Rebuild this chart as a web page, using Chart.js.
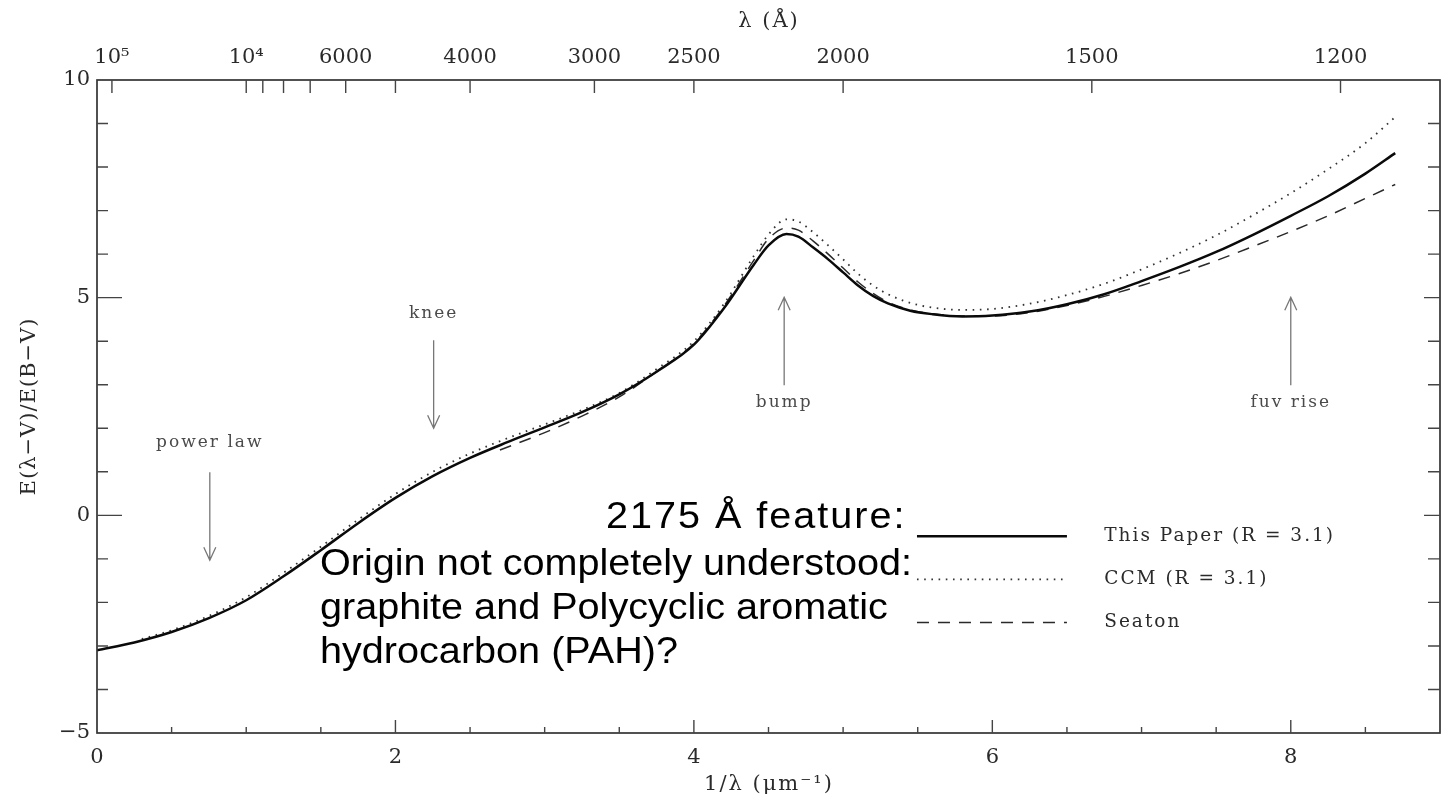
<!DOCTYPE html>
<html><head><meta charset="utf-8">
<script src="https://cdn.jsdelivr.net/npm/chart.js@4"></script>
<style>
html,body{margin:0;padding:0;background:#fff;}
#wrap{position:relative;width:1444px;height:801px;}
canvas{display:block;}
#note{position:absolute;left:320px;top:494px;font-family:"Liberation Sans",Arial,sans-serif;font-size:36px;line-height:44px;color:#000;white-space:nowrap;transform-origin:0 0;transform:scaleX(1.1);}
#note .l1{padding-left:260px;margin-bottom:3px;letter-spacing:1.8px;}
</style>
</head><body>
<div id="wrap">
<canvas id="c" width="1444" height="801"></canvas>
<div id="note"><div class="l1">2175 Å feature:</div><div>Origin not completely understood:</div><div>graphite and Polycyclic aromatic</div><div>hydrocarbon (PAH)?</div></div>
</div>
<script>
// ---- data (x = 1/lambda in micron^-1, y = E(lambda-V)/E(B-V)) ----
const xThisPaper = [0,0.25,0.5,0.75,1.0,1.25,1.5,1.75,2.0,2.25,2.5,2.75,3.0,3.25,3.5,3.75,4.0,4.2,4.4,4.5,4.62,4.7,4.8,4.9,5.0,5.1,5.2,5.3,5.45,5.6,5.8,6.0,6.25,6.5,6.75,7.0,7.25,7.5,7.75,8.0,8.25,8.5,8.7];
const yThisPaper = [-3.10,-2.92,-2.68,-2.36,-1.95,-1.40,-0.80,-0.18,0.40,0.90,1.32,1.68,2.02,2.37,2.78,3.30,3.92,4.75,5.75,6.20,6.46,6.40,6.15,5.88,5.58,5.28,5.04,4.87,4.70,4.62,4.57,4.59,4.68,4.85,5.08,5.38,5.70,6.05,6.45,6.88,7.33,7.85,8.32];
const xCCM = [0.3,0.5,0.75,1.0,1.25,1.5,1.75,2.0,2.25,2.5,2.75,3.0,3.25,3.5,3.75,4.0,4.2,4.4,4.5,4.62,4.7,4.8,4.9,5.0,5.1,5.2,5.3,5.45,5.6,5.8,6.0,6.25,6.5,6.75,7.0,7.25,7.5,7.75,8.0,8.25,8.5,8.7];
const yCCM = [-2.84,-2.64,-2.31,-1.88,-1.32,-0.72,-0.10,0.49,1.00,1.42,1.77,2.09,2.42,2.81,3.36,4.00,4.85,5.95,6.45,6.80,6.75,6.50,6.20,5.88,5.55,5.28,5.08,4.88,4.77,4.72,4.74,4.86,5.06,5.32,5.65,6.02,6.43,6.90,7.40,7.95,8.55,9.15];
const xSeaton = [2.7,3.0,3.25,3.5,3.75,4.0,4.2,4.4,4.5,4.62,4.7,4.8,4.9,5.0,5.1,5.2,5.3,5.45,5.6,5.8,6.0,6.25,6.5,6.75,7.0,7.25,7.5,7.75,8.0,8.25,8.5,8.7];
const ySeaton = [1.50,1.90,2.28,2.72,3.30,3.95,4.80,5.85,6.35,6.60,6.55,6.30,6.00,5.68,5.36,5.10,4.90,4.72,4.63,4.58,4.58,4.66,4.82,5.03,5.28,5.55,5.85,6.18,6.52,6.88,7.28,7.60];
const seriesNames = ['This Paper (R = 3.1)', 'CCM (R = 3.1)', 'Seaton'];
// top axis: wavelength in Angstrom
const lambdaTicks = [100000,10000,9000,8000,7000,6000,5000,4000,3000,2500,2000,1500,1200];
const lambdaLabels = ['10\u2075','10\u2074','','','','6000','','4000','3000','2500','2000','1500','1200'];
// annotations (label, x, text y, arrow start y, arrow end y)
const notes = [
  {label:'power law', x:0.756, ty:1.66, y1:0.99, y2:-1.03},
  {label:'knee', x:2.256, ty:4.64, y1:4.02, y2:2.0},
  {label:'bump', x:4.605, ty:2.60, y1:2.99, y2:5.01},
  {label:'fuv rise', x:8.0, ty:2.60, y1:2.99, y2:5.01}
];

const pts = (xs, ys) => xs.map((v, i) => ({x: v, y: ys[i]}));
const SERIF = '"DejaVu Serif", "Liberation Serif", serif';

const styles = [
  {borderColor:'#0a0a0a', borderWidth:2.5, borderDash:[]},
  {borderColor:'#333', borderWidth:1.8, borderDash:[1.6,5.6]},
  {borderColor:'#2a2a2a', borderWidth:1.5, borderDash:[12,9]}
];

const decor = {
  id: 'decor',
  afterDatasetsDraw(chart) {
    const ctx = chart.ctx, a = chart.chartArea;
    const xs = chart.scales.x, ys = chart.scales.y, xt = chart.scales.x2;
    ctx.save();
    ctx.strokeStyle = '#333'; ctx.lineWidth = 1.7;
    ctx.strokeRect(a.left, a.top, a.right - a.left, a.bottom - a.top);
    ctx.lineWidth = 1.4; ctx.strokeStyle = '#444';
    ctx.beginPath();
    xs.ticks.forEach(t => {
      const p = xs.getPixelForValue(t.value);
      if (p <= a.left + 1 || p >= a.right - 1) return;
      const major = Math.abs(t.value / 2 - Math.round(t.value / 2)) < 1e-6;
      ctx.moveTo(p, a.bottom); ctx.lineTo(p, a.bottom - (major ? 13 : 6));
    });
    xt.ticks.forEach(t => {
      const p = xt.getPixelForValue(t.value);
      ctx.moveTo(p, a.top); ctx.lineTo(p, a.top + 13);
    });
    ys.ticks.forEach(t => {
      const p = ys.getPixelForValue(t.value);
      if (p <= a.top + 1 || p >= a.bottom - 1) return;
      const major = Math.abs(t.value / 5 - Math.round(t.value / 5)) < 1e-6;
      ctx.moveTo(a.left, p); ctx.lineTo(a.left + (major ? 25 : 11), p);
      ctx.moveTo(a.right, p); ctx.lineTo(a.right - (major ? 16 : 12), p);
    });
    ctx.stroke();

    // annotations
    ctx.fillStyle = '#4a4a4a'; ctx.strokeStyle = '#777'; ctx.lineWidth = 1.3;
    ctx.font = '17px ' + SERIF; ctx.textAlign = 'center'; ctx.textBaseline = 'middle';
    try { ctx.letterSpacing = '2px'; } catch (e) {}
    notes.forEach(n => {
      const px = xs.getPixelForValue(n.x);
      ctx.fillText(n.label, px, ys.getPixelForValue(n.ty));
      const p1 = ys.getPixelForValue(n.y1), p2 = ys.getPixelForValue(n.y2);
      const dir = p2 > p1 ? 1 : -1;
      ctx.beginPath();
      ctx.moveTo(px, p1); ctx.lineTo(px, p2);
      ctx.moveTo(px - 6, p2 - dir * 13); ctx.lineTo(px, p2); ctx.lineTo(px + 6, p2 - dir * 13);
      ctx.stroke();
    });

    // legend
    const legY = [-0.48, -1.47, -2.46];
    ctx.textAlign = 'left'; ctx.fillStyle = '#2a2a2a';
    ctx.font = '18.5px ' + SERIF;
    seriesNames.forEach((name, i) => {
      const py = ys.getPixelForValue(legY[i]);
      const s = styles[i];
      ctx.save();
      ctx.strokeStyle = s.borderColor; ctx.lineWidth = s.borderWidth; ctx.setLineDash(s.borderDash);
      ctx.beginPath(); ctx.moveTo(xs.getPixelForValue(5.495), py); ctx.lineTo(xs.getPixelForValue(6.5), py); ctx.stroke();
      ctx.restore();
      ctx.fillText(name, xs.getPixelForValue(6.75), py);
    });

    // axis titles
    ctx.fillStyle = '#2a2a2a'; ctx.font = '21px ' + SERIF; ctx.textAlign = 'center';
    ctx.fillText('\u03bb (\u00c5)', 769, 22);
    ctx.fillText('1/\u03bb (\u03bcm\u207b\u00b9)', 769, 785);
    try { ctx.letterSpacing = '1px'; } catch (e) {}
    ctx.translate(30, (a.top + a.bottom) / 2);
    ctx.rotate(-Math.PI / 2);
    ctx.fillText('E(\u03bb\u2212V)/E(B\u2212V)', 0, 0);
    try { ctx.letterSpacing = '0px'; } catch (e) {}
    ctx.restore();
  }
};

const fmt = v => v < 0 ? '\u2212' + Math.abs(v) : String(v);
const noSidePad = s => { s.paddingLeft = 0; s.paddingRight = 0; };

new Chart(document.getElementById('c'), {
  type: 'line',
  data: {
    datasets: [
      Object.assign({label: seriesNames[0], data: pts(xThisPaper, yThisPaper), order: 0}, styles[0]),
      Object.assign({label: seriesNames[1], data: pts(xCCM, yCCM), order: 1}, styles[1]),
      Object.assign({label: seriesNames[2], data: pts(xSeaton, ySeaton), order: 2}, styles[2])
    ]
  },
  options: {
    responsive: false,
    animation: false,
    devicePixelRatio: 1,
    layout: {padding: {left: 0, right: 4, top: 0, bottom: 0}},
    elements: {point: {radius: 0}, line: {cubicInterpolationMode: 'monotone', fill: false}},
    plugins: {legend: {display: false}, tooltip: {enabled: false}},
    scales: {
      x: {
        type: 'linear', position: 'bottom', min: 0, max: 9,
        grid: {display: false, drawTicks: false}, border: {display: false},
        ticks: {stepSize: 0.5, autoSkip: false, maxRotation: 0, padding: 12, color: '#2a2a2a',
          font: {family: SERIF, size: 21},
          callback: v => (Math.abs(v / 2 - Math.round(v / 2)) < 1e-6 && v < 9) ? fmt(v) : ''},
        afterFit: s => { s.height = 68; noSidePad(s); }
      },
      x2: {
        type: 'linear', position: 'top', min: 0, max: 9,
        grid: {display: false, drawTicks: false}, border: {display: false},
        afterBuildTicks: s => { s.ticks = lambdaTicks.map(l => ({value: 1e4 / l})); },
        ticks: {autoSkip: false, maxRotation: 0, padding: 10, color: '#2a2a2a',
          font: {family: SERIF, size: 21},
          callback: (v, i) => lambdaLabels[i]},
        afterFit: s => { s.height = 80; noSidePad(s); }
      },
      y: {
        type: 'linear', position: 'left', min: -5, max: 10,
        grid: {display: false, drawTicks: false}, border: {display: false},
        ticks: {stepSize: 1, autoSkip: false, padding: 7, color: '#2a2a2a',
          font: {family: SERIF, size: 21},
          callback: v => (Math.abs(v / 5 - Math.round(v / 5)) < 1e-6) ? fmt(v) : ''},
        afterFit: s => { s.width = 97; }
      }
    }
  },
  plugins: [decor]
});
</script>
</body></html>
